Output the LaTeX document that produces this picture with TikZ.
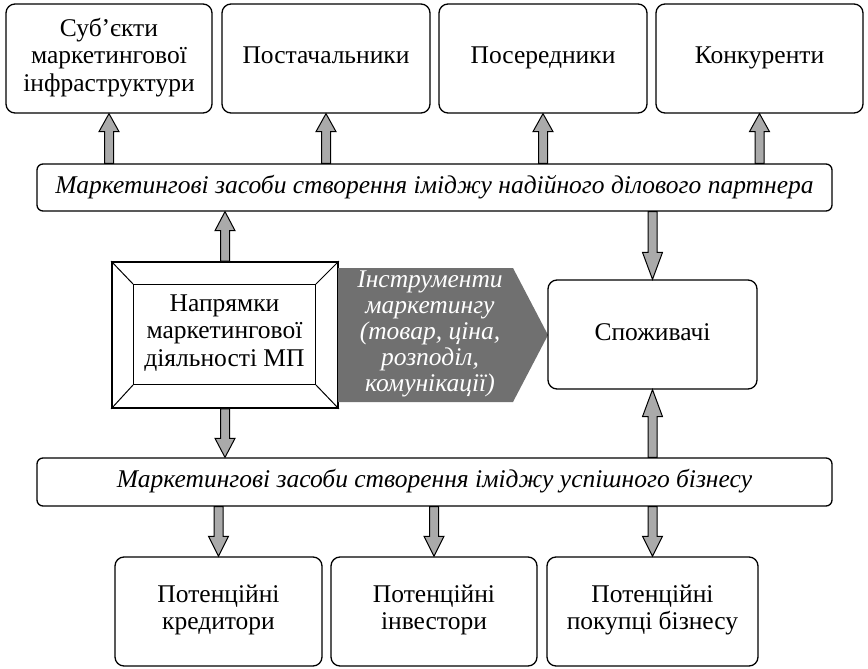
\documentclass[tikz,border=0pt]{standalone}
\usepackage{fontspec}
\setmainfont{Liberation Serif}
\usetikzlibrary{calc}
\definecolor{arrgray}{RGB}{170,170,170}
\definecolor{pentgray}{RGB}{112,112,112}
\tikzset{
  box/.style={draw, line width=1.3pt, rounded corners=9pt, inner sep=0pt, align=center,
    font=\fontsize{25.5}{27.5}\selectfont, execute at begin node=\strut, execute at end node=\strut},
  barbox/.style={draw, line width=1.3pt, rounded corners=6pt, inner sep=0pt, align=center,
    font=\fontsize{25.5}{27.5}\selectfont\itshape, minimum width=795pt, minimum height=47pt,
    execute at begin node=\strut, execute at end node=\strut},
  blockarrow/.style={draw=black, fill=arrgray, line width=1pt, line join=miter},
}
\newcommand{\barrow}[3][19]{%
  \draw[blockarrow] let \p1=#2, \p2=#3, \n1={\y2-sign(\y2-\y1)*#1} in
    (\x1-4.5pt,\y1) -- (\x1-4.5pt,\n1) -- (\x1-10pt,\n1) -- (\x2,\y2) --
    (\x1+10pt,\n1) -- (\x1+4.5pt,\n1) -- (\x1+4.5pt,\y1) -- cycle;}
\begin{document}
\begin{tikzpicture}[x=1pt,y=1pt]
\useasboundingbox (0,0) rectangle (868,-669);
% top row
\node[box, minimum width=206pt, minimum height=109pt] (t1) at (109,-58.5) {Суб’єкти\\маркетингової\\інфраструктури};
\node[box, minimum width=208pt, minimum height=109pt] (t2) at (326,-58.5) {Постачальники};
\node[box, minimum width=208pt, minimum height=109pt] (t3) at (543,-58.5) {Посередники};
\node[box, minimum width=207pt, minimum height=109pt] (t4) at (759.5,-58.5) {Конкуренти};
% top bar
\node[barbox] (bar1) at (434.5,-187.5) {Маркетингові засоби створення іміджу надійного ділового партнера};
% bevelled box
\node[draw, line width=1.8pt, fill=white, minimum width=226pt, minimum height=146pt, inner sep=0pt] (mp) at (225,-335) {};
\coordinate (iNW) at ($(mp.north west)+(22,-23)$);
\coordinate (iNE) at ($(mp.north east)+(-23,-23)$);
\coordinate (iSW) at ($(mp.south west)+(22,24)$);
\coordinate (iSE) at ($(mp.south east)+(-23,24)$);
\draw[line width=1pt] (iNW) rectangle (iSE);
\draw[line width=1pt] (mp.north west) -- (iNW) (mp.north east) -- (iNE)
  (mp.south west) -- (iSW) (mp.south east) -- (iSE);
\node[align=center, inner sep=0pt, font=\fontsize{25.5}{27.5}\selectfont,
  execute at begin node=\strut, execute at end node=\strut] (mptext) at ($(iNW)!0.5!(iSE)$) {Напрямки\\маркетингової\\діяльності МП};
% pentagon
\fill[pentgray] (338,-268) -- (513,-268) -- (548,-335) -- (513,-402) -- (338,-402) -- cycle;
\node[align=center, inner sep=0pt, text=white, font=\fontsize{25.5}{26}\selectfont\itshape,
  execute at begin node=\strut, execute at end node=\strut] (tools) at (430,-335) {Інструменти\\маркетингу\\(товар, ціна,\\розподіл,\\комунікації)};
% consumers
\node[box, minimum width=209pt, minimum height=109pt] (cons) at (652.5,-334.5) {Споживачі};
% lower bar
\node[barbox, minimum height=48pt] (bar2) at (434.5,-482) {Маркетингові засоби створення іміджу успішного бізнесу};
% bottom row
\node[box, minimum width=207pt, minimum height=109pt] (b1) at (218.5,-611.5) {Потенційні\\кредитори};
\node[box, minimum width=206pt, minimum height=109pt] (b2) at (434,-611.5) {Потенційні\\інвестори};
\node[box, minimum width=211pt, minimum height=109pt] (b3) at (652.5,-611.5) {Потенційні\\покупці бізнесу};
% arrows
\barrow[18]{(bar1.north -| t1.south)}{(t1.south)}
\barrow[18]{(bar1.north -| t2.south)}{(t2.south)}
\barrow[18]{(bar1.north -| t3.south)}{(t3.south)}
\barrow[18]{(bar1.north -| t4.south)}{(t4.south)}
\barrow[19]{(mp.north)}{(bar1.south -| mp.north)}
\barrow[19]{(mp.south)}{(bar2.north -| mp.south)}
\barrow[27]{(bar1.south -| cons.north)}{(cons.north)}
\barrow[27]{(bar2.north -| cons.south)}{(cons.south)}
\barrow[20]{(bar2.south -| b1.north)}{(b1.north)}
\barrow[20]{(bar2.south -| b2.north)}{(b2.north)}
\barrow[20]{(bar2.south -| b3.north)}{(b3.north)}
\end{tikzpicture}
\end{document}
